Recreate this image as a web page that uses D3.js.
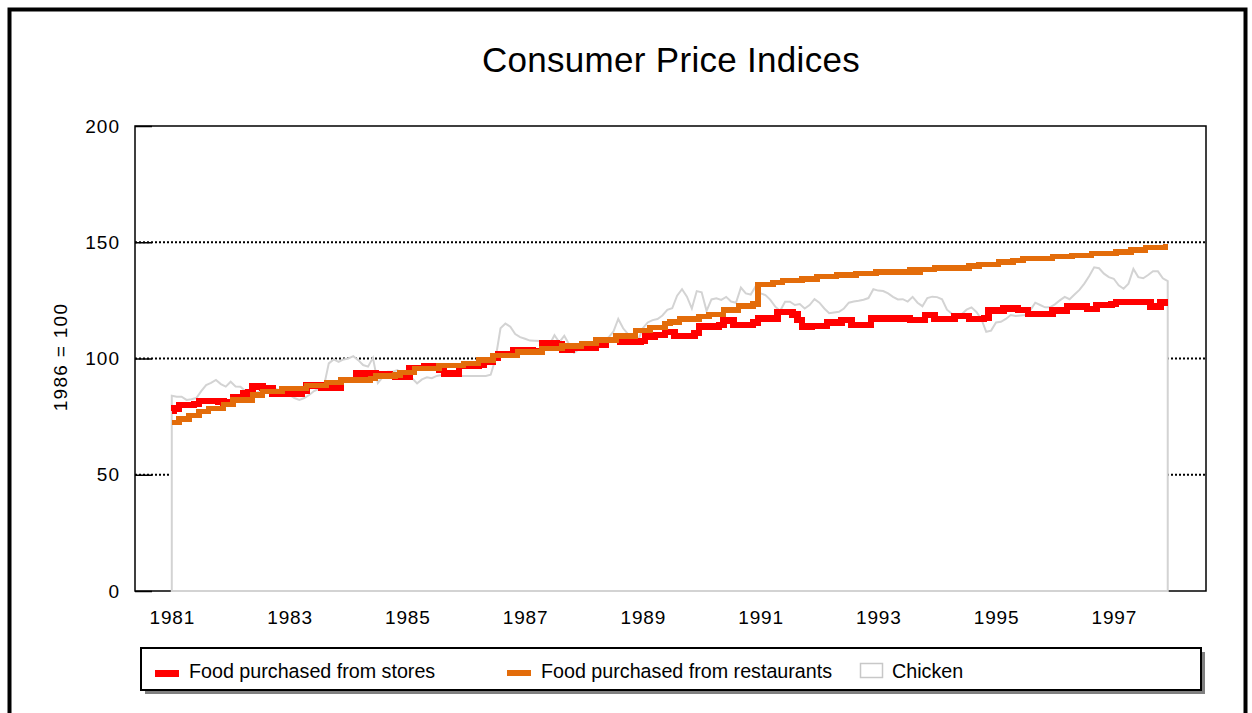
<!DOCTYPE html>
<html>
<head>
<meta charset="utf-8">
<script src="https://cdn.jsdelivr.net/npm/d3@7"></script>
<style>
  body { margin: 0; background: #fff; }
  svg { display: block; font-family: "Liberation Sans", Arial, sans-serif; }
</style>
</head>
<body>
<svg id="chart" width="1252" height="713"></svg>
<script>
// monthly index values, Jan 1981 .. Dec 1997 (1986 = 100)
var tickYears = [1981, 1983, 1985, 1987, 1989, 1991, 1993, 1995, 1997];
var yTicks = [0, 50, 100, 150, 200];

var stores = [
  77.5, 78.5, 80, 80, 80, 80.5, 81.7, 81.7, 81.7, 81.7, 81.5, 81,
  80.9, 83.4, 83.4, 85, 85.5, 87.9, 87.9, 87.3, 87, 85, 85, 85,
  85, 84.8, 85, 86, 88.3, 88.3, 88.3, 87.3, 87.3, 87.3, 87.5, 90.7,
  90.7, 90.7, 93.6, 93.6, 93.6, 93.6, 93.3, 93.3, 93.3, 93, 92.2, 92.2,
  92.2, 95.9, 95.9, 95.9, 96.6, 96.6, 96, 95, 93.6, 93.6, 93.6, 96.8,
  96.8, 96.8, 96.8, 97.5, 98.6, 98.6, 100.5, 102, 102, 102, 103.6, 103.6,
  103.6, 103.6, 103, 103, 106.5, 106.5, 106.5, 106, 103.6, 103.6, 104.8, 104.8,
  104.8, 104.8, 104.8, 105.8, 105.8, 108, 108, 108, 107, 107, 107, 107,
  107.5, 109.4, 109.4, 110.1, 110.1, 111.3, 111.3, 109.7, 109.7, 109.7, 109.7, 111,
  113.7, 113.7, 113.7, 113.7, 114.4, 116.3, 116.3, 114.4, 114.4, 114.4, 114.4, 115.5,
  117.3, 117.3, 117.3, 117.3, 120.1, 120.1, 120.1, 119, 116.6, 113.7, 113.7, 114,
  114, 114, 115.4, 115.4, 115.4, 116.6, 116.6, 114.4, 114.4, 114.4, 114.4, 117.3,
  117.3, 117.3, 117.3, 117.3, 117.3, 117.3, 117.3, 116.6, 116.6, 116.6, 118.7, 118.7,
  117, 117, 117, 117, 118.3, 118.3, 118.3, 117, 117, 117, 117.5, 120.6,
  120.6, 120.6, 121.6, 121.6, 121.6, 120.9, 120.9, 119.1, 119.1, 119.1, 119.1, 119.1,
  120.6, 120.6, 120.6, 122.3, 122.3, 122.3, 122.3, 121.2, 121.2, 123, 123, 123,
  123.5, 124.2, 124.2, 124.2, 124.2, 124.2, 124.2, 124.2, 122.3, 122.3, 124, 124
];

var restaurants = [
  72.4, 72.4, 74, 74, 75.4, 75.4, 77.1, 77.1, 78.6, 78.6, 78.6, 80.3,
  80.3, 82.2, 82.2, 82.2, 82.2, 84.3, 84.3, 85.7, 85.7, 85.7, 85.7, 87.2,
  87.2, 87.2, 87.2, 87.2, 88.3, 88.3, 88.3, 88.3, 89.6, 89.6, 89.6, 90.8,
  90.8, 90.8, 90.8, 90.8, 90.8, 91.5, 92.5, 92.5, 92.5, 92.5, 93, 93.9,
  93.9, 93.9, 95.8, 95.8, 95.8, 95.8, 95.8, 96.9, 96.9, 96.9, 96.9, 96.9,
  97.9, 97.9, 97.9, 99.4, 99.4, 99.4, 101.2, 101.2, 101.2, 101.2, 101.2, 102.9,
  102.9, 102.9, 102.9, 102.9, 104.4, 104.4, 104.4, 104.4, 105.4, 105.4, 105.4, 105.4,
  106.5, 106.5, 106.5, 108, 108, 108, 108, 109.7, 109.7, 109.7, 109.7, 112,
  112, 112, 113.3, 113.3, 113.3, 115, 115.8, 115.8, 116.9, 116.9, 116.9, 116.9,
  118, 118, 119, 119, 119, 120.9, 120.9, 120.9, 122.6, 122.6, 122.6, 123.5,
  131.9, 131.9, 131.9, 132.6, 132.6, 133.5, 133.5, 133.5, 133.5, 134.3, 134.3, 134.3,
  135.2, 135.2, 135.2, 135.2, 135.9, 135.9, 135.9, 135.9, 136.6, 136.6, 136.6, 136.6,
  137.3, 137.3, 137.3, 137.3, 137.3, 137.3, 137.3, 138, 137.2, 138.3, 138.3, 138.3,
  139, 139, 139, 139, 139, 139, 139, 139.8, 139.8, 140.5, 140.5, 140.5,
  140.5, 141.4, 141.4, 141.4, 142.1, 142.1, 143.1, 143.1, 143.1, 143.1, 143.1, 143.1,
  143.8, 143.8, 143.8, 143.8, 144.4, 144.4, 144.4, 144.4, 145.2, 145.2, 145.2, 145.2,
  145.2, 145.9, 145.9, 145.9, 146.7, 146.7, 146.7, 147.7, 147.7, 147.7, 147.7, 148.2
];

var chicken = [
  84, 83.6, 83.6, 82.2, 82.5, 83, 86, 88.6, 89.5, 90.8, 89, 87.9,
  90, 88, 87.9, 86, 85.1, 85.1, 86, 87.3, 88, 87, 86.4, 85.5,
  84.3, 83, 82.2, 83, 84.3, 86, 87, 88, 97.9, 99.6, 98.5, 99.6,
  100, 101, 99.3, 97.2, 96.5, 100.3, 89.5, 92, 94.3, 94.3, 95, 92.9,
  92.2, 91.5, 89.3, 91, 91.9, 91.5, 92.5, 92.9, 93.5, 94.3, 93.5, 92.5,
  92.5, 92.5, 92.5, 92.5, 92.5, 93, 100, 113, 115, 113.7, 110.5, 109.2,
  108.5, 107.7, 107.6, 107.5, 104.5, 106, 110, 107, 109.8, 106, 102.5, 104,
  105, 105.3, 105.8, 106.5, 107.5, 109, 111.5, 117, 113, 110.5, 108.2, 107.5,
  113, 115.5, 116.5, 117, 118.5, 120.9, 121.6, 127, 129.8, 126.6, 121.5, 129,
  128.5, 120.5, 125.4, 125.9, 125.2, 126.5, 124.5, 124, 130.5, 128, 127.5, 131,
  128, 127.3, 125.2, 122.3, 120.5, 124.4, 124.4, 123, 123.4, 121.5, 123, 125.5,
  124, 121.5, 119.5, 119.8, 120.1, 121.5, 124, 124.5, 124.8, 125.3, 126, 129.8,
  129.2, 129, 128, 126.5, 125.4, 125.5, 124.5, 126.5, 124, 122.5, 126, 126.6,
  126.4, 125.5, 121, 119.2, 119.1, 119, 121, 122, 120, 117, 111.5, 112,
  115.5, 115.8, 117, 118.7, 118.3, 118.5, 118.7, 120.8, 124, 123, 122, 122,
  123.3, 125, 126.5, 125.5, 127.5, 129.5, 132.2, 135.5, 139.2, 138.8, 136.5, 135,
  134.3, 131.5, 130, 132.2, 138.5, 135, 134.5, 135.9, 137.5, 137.5, 134.5, 133.3
];

var seriesNames = ["Food purchased from stores", "Food purchased from restaurants", "Chicken"];
var seriesColors = ["#FF0000", "#E36C0A", "#D3D3D3"];

var svg = d3.select("#chart");

// month index -> x  (1981 label sits on the first month)
var x = d3.scaleLinear().domain([-7.5, 210.8]).range([135, 1206]);
var y = d3.scaleLinear().domain([0, 200]).range([591, 126]);

// outer frame
svg.append("rect")
  .attr("x", 9.5).attr("y", 9.5)
  .attr("width", 1236).attr("height", 720)
  .attr("fill", "none").attr("stroke", "#000").attr("stroke-width", 4);

svg.append("text")
  .attr("x", 671).attr("y", 72)
  .attr("text-anchor", "middle")
  .attr("font-size", 35)
  .attr("letter-spacing", 0.3)
  .text("Consumer Price Indices");

// dotted gridlines
svg.append("g").selectAll("line")
  .data(yTicks.filter(function (d) { return d > 0 && d < 200; }))
  .enter().append("line")
  .attr("x1", 135).attr("x2", 1206)
  .attr("y1", function (d) { return y(d); })
  .attr("y2", function (d) { return y(d); })
  .attr("stroke", "#000").attr("stroke-width", 2)
  .attr("stroke-dasharray", "2,2");

// plot frame
svg.append("rect")
  .attr("x", 135).attr("y", 126)
  .attr("width", 1071).attr("height", 465)
  .attr("fill", "none").attr("stroke", "#000").attr("stroke-width", 1.5);

var yAxis = d3.axisLeft(y).tickValues(yTicks).tickSize(-17).tickPadding(15);
var gy = svg.append("g").attr("transform", "translate(135,0)").call(yAxis);
gy.select(".domain").remove();
gy.selectAll(".tick line").attr("stroke", "#000").attr("stroke-width", 1.5);
gy.selectAll(".tick text")
  .attr("font-family", "Liberation Sans, Arial, sans-serif")
  .attr("font-size", 19).attr("letter-spacing", 1).attr("fill", "#000");

var xAxis = d3.axisBottom(x)
  .tickValues(tickYears.map(function (yr) { return (yr - 1981) * 12; }))
  .tickFormat(function (d) { return String(1981 + d / 12); })
  .tickSize(0).tickPadding(20);
var gx = svg.append("g").attr("transform", "translate(0,591)").call(xAxis);
gx.select(".domain").remove();
gx.selectAll(".tick text")
  .attr("font-family", "Liberation Sans, Arial, sans-serif")
  .attr("font-size", 19).attr("letter-spacing", 0.8).attr("fill", "#000");

svg.append("text")
  .attr("transform", "translate(67,357) rotate(-90)")
  .attr("text-anchor", "middle")
  .attr("font-size", 19)
  .attr("letter-spacing", 1.3)
  .text("1986 = 100");

// chicken as white area with gray outline
var area = d3.area()
  .x(function (d, i) { return x(i); })
  .y0(y(0))
  .y1(function (d) { return y(d); });
svg.append("path")
  .datum(chicken)
  .attr("d", area)
  .attr("fill", "#fff")
  .attr("stroke", seriesColors[2]).attr("stroke-width", 2);

var line = d3.line()
  .x(function (d, i) { return x(i); })
  .y(function (d) { return y(d); })
  .curve(d3.curveStep);

svg.append("path")
  .datum(stores)
  .attr("d", line)
  .attr("fill", "none")
  .attr("stroke", seriesColors[0]).attr("stroke-width", 6.5)
  .attr("shape-rendering", "crispEdges");

svg.append("path")
  .datum(restaurants)
  .attr("d", line)
  .attr("fill", "none")
  .attr("stroke", seriesColors[1]).attr("stroke-width", 5.5)
  .attr("shape-rendering", "crispEdges");

// legend
var lg = svg.append("g");
lg.append("rect").attr("x", 145).attr("y", 652).attr("width", 1060).attr("height", 42)
  .attr("fill", "#808080");
lg.append("rect").attr("x", 141).attr("y", 648).attr("width", 1060).attr("height", 42)
  .attr("fill", "#fff").attr("stroke", "#000").attr("stroke-width", 2);

lg.append("rect").attr("x", 155).attr("y", 670).attr("width", 24).attr("height", 7)
  .attr("fill", seriesColors[0]);
lg.append("rect").attr("x", 507).attr("y", 670).attr("width", 24).attr("height", 6)
  .attr("fill", seriesColors[1]);
lg.append("rect").attr("x", 860.5).attr("y", 663.5).attr("width", 22).attr("height", 14)
  .attr("fill", "#fff").attr("stroke", "#C8C8C8").attr("stroke-width", 1.5);

var legendX = [189, 541, 892];
lg.selectAll("text.leg")
  .data(seriesNames)
  .enter().append("text")
  .attr("class", "leg")
  .attr("x", function (d, i) { return legendX[i]; })
  .attr("y", 678)
  .attr("font-size", 19.7)
  .text(function (d) { return d; });
</script>
</body>
</html>
